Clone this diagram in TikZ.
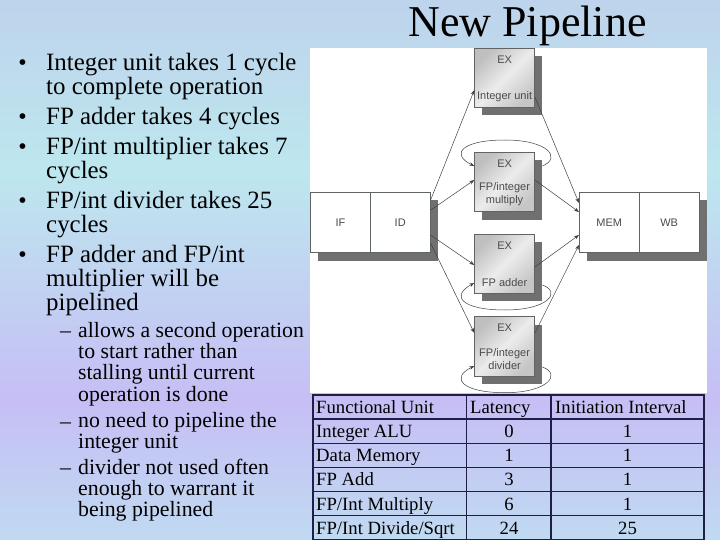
\documentclass[tikz,border=0pt]{standalone}
\usepackage{fontspec}
\setmainfont{Liberation Serif}
\newfontfamily\lblfont{Liberation Sans}
\usetikzlibrary{arrows.meta,calc}
\definecolor{bgA}{RGB}{190,211,236}
\definecolor{bgB}{RGB}{189,231,238}
\definecolor{bgC}{RGB}{198,190,245}
\definecolor{bgD}{RGB}{192,218,241}
\definecolor{shadowgray}{RGB}{112,112,112}
\definecolor{boxedge}{RGB}{95,100,100}
\definecolor{tabline}{RGB}{30,30,70}
\definecolor{lbl}{RGB}{75,75,75}
\pgfdeclareverticalshading{slidebg}{100bp}{color(0bp)=(bgD); color(25bp)=(bgD); color(37.96bp)=(bgC); color(59.26bp)=(bgB); color(75bp)=(bgA); color(100bp)=(bgA)}
\tikzset{
  x=1pt,y=-1pt,
  bullettext/.style={anchor=base west,inner sep=0pt,align=left,font=\fontsize{24.9}{24}\selectfont,text=black},
  subtext/.style={anchor=base west,inner sep=0pt,align=left,font=\fontsize{21.8}{21.3}\selectfont,text=black},
  cellhead/.style={anchor=base west,inner sep=0pt,font=\fontsize{18.7}{20}\selectfont,text=black},
  cellnum/.style={anchor=base,inner sep=0pt,font=\fontsize{18.7}{20}\selectfont,text=black},
  exbox/.style={minimum width=60pt,minimum height=59.5pt,inner sep=0pt,draw=boxedge,line width=0.6pt,shading=axis,left color=gray!50,right color=gray!45,middle color=gray!15,shading angle=45},
  stagebox/.style={minimum width=60pt,minimum height=60pt,inner sep=0pt,draw=boxedge,line width=0.7pt,fill=white},
  lbltext/.style={font=\lblfont\fontsize{11}{13}\selectfont,text=lbl,align=center,inner sep=0pt},
  flow/.style={draw=black!75,line width=0.5pt,-{Stealth[length=5pt,width=3.6pt]}},
}
\begin{document}
\begin{tikzpicture}
\useasboundingbox (0,0) rectangle (720,540);
\shade[shading=slidebg] (0,0) rectangle (720,540);

% title
\node[anchor=base,inner sep=0pt,font=\fontsize{44}{44}\selectfont] (title) at (527.5,37) {New Pipeline};

% bullets
\foreach \yy/\nm in {70.5/a,124.5/b,154.5/c,208.5/d,262.5/e}{
  \node[anchor=base,inner sep=0pt,font=\fontsize{24}{24}\selectfont] (dot\nm) at (22.5,\yy) {•};
}
\node[bullettext] (b1) at (46,94.5) {Integer unit takes 1 cycle\\to complete operation};
\node[bullettext] (b2) at (46,124.5) {FP adder takes 4 cycles};
\node[bullettext] (b3) at (46,178.5) {FP/int multiplier takes 7\\cycles};
\node[bullettext] (b4) at (46,232.5) {FP/int divider takes 25\\cycles};
\node[bullettext] (b5) at (46,310.5) {FP adder and FP/int\\multiplier will be\\pipelined};

\node[subtext] (dasha) at (60,337) {–};
\node[subtext] (dashb) at (60,428) {–};
\node[subtext] (dashc) at (60,474) {–};
\node[subtext] (s1) at (78,401) {allows a second operation\\to start rather than\\stalling until current\\operation is done};
\node[subtext] (s2) at (78,448.3) {no need to pipeline the\\integer unit};
\node[subtext] (s3) at (78,516.6) {divider not used often\\enough to warrant it\\being pipelined};

% white panel
\fill[white] (310,48) rectangle (707,393);

% shadows
\fill[shadowgray] (437.5,200.5) rectangle (318,260.6);
\fill[shadowgray] (707,200.5) rectangle (587,260.6);
\foreach \yy in {48,152.3,234,316.7}{
  \fill[shadowgray] (482.3,\yy+8) rectangle (541.8,\yy+67.3);
}

% stage boxes
\node[stagebox] (IF) at (340.5,222.7) {};
\node[stagebox] (ID) at (400.2,222.7) {};
\node[stagebox] (MEM) at (609.3,222.7) {};
\node[stagebox] (WB) at (669.2,222.7) {};
\node[lbltext] at (IF.center) {IF};
\node[lbltext] at (ID.center) {ID};
\node[lbltext] at (MEM.center) {MEM};
\node[lbltext] at (WB.center) {WB};

% EX boxes
\node[exbox] (ex1) at (504.6,78) {};
\node[exbox] (ex2) at (504.6,182) {};
\node[exbox] (ex3) at (504.6,264) {};
\node[exbox] (ex4) at (504.6,346.5) {};
\foreach \b/\txt/\yo in {ex1/Integer unit/19,ex3/FP adder/19}{
  \node[lbltext] at ($(\b.center)+(0,\yo)$) {\txt};
}
\node[lbltext,font=\lblfont\fontsize{11}{13.5}\selectfont] at ($(ex2.center)+(0,12)$) {FP/integer\\multiply};
\node[lbltext,font=\lblfont\fontsize{11}{13.5}\selectfont] at ($(ex4.center)+(0,12.5)$) {FP/integer\\divider};
\foreach \b in {ex1,ex2,ex3,ex4}{
  \node[lbltext] at ($(\b.north)+(0,11.5)$) {EX};
}

% connectors
\draw[flow] ([yshift=22.5pt]ID.east) -- ([yshift=-12pt]ex1.west);
\draw[flow] ([yshift=12.5pt]ID.east) -- ([yshift=2pt]ex2.west);
\draw[flow] ([yshift=-12.3pt]ID.east) -- ([yshift=-1pt]ex3.west);
\draw[flow] ([yshift=-20.3pt]ID.east) -- ([yshift=13.5pt]ex4.west);
\draw[flow] ([yshift=-19pt]ex1.east) -- ([yshift=19.7pt]MEM.west);
\draw[flow] ([yshift=2pt]ex2.east) -- ([yshift=10.7pt]MEM.west);
\draw[flow] ([yshift=-3pt]ex3.east) -- ([yshift=-12.3pt]MEM.west);
\draw[flow] ([yshift=13.5pt]ex4.east) -- ([yshift=-22.3pt]MEM.west);

% loops
\draw[flow] ($(ex2.east)+(7.5,-16)$) .. controls (562,158) and (548,140) .. (505,140) .. controls (462,140) and (450,154) .. ($(ex2.west)+(0,-16)$);
\draw[flow] ($(ex3.east)+(7.5,21)$) .. controls (562,292) and (548,310) .. (505,310) .. controls (462,310) and (450,296) .. ($(ex3.west)+(0,19)$);
\draw[flow] ($(ex4.east)+(7.5,20.5)$) .. controls (562,374) and (548,392.7) .. (505,392.7) .. controls (462,392.7) and (450,378) .. ($(ex4.west)+(0,19.5)$);

% table
\draw[tabline,line width=1.2pt] (313,395) rectangle (704,540);
\foreach \yy in {419,443.3,467.7,491.7,515.7}{
  \draw[tabline,line width=1.2pt] (313,\yy) -- (704,\yy);
}
\foreach \xx in {466.3,551}{
  \draw[tabline,line width=1.2pt] (\xx,395) -- (\xx,540);
}
\node[cellhead] (h1) at (316,413) {Functional Unit};
\node[cellhead] (h2) at (470,413) {Latency};
\node[cellhead] (h3) at (555,413) {Initiation Interval};
\node[cellhead] (r1) at (316,437) {Integer ALU};
\node[cellnum] (r1l) at (509,437) {0};
\node[cellnum] (r1i) at (627.5,437) {1};
\node[cellhead] (r2) at (316,461.5) {Data Memory};
\node[cellnum] (r2l) at (509,461.5) {1};
\node[cellnum] (r2i) at (627.5,461.5) {1};
\node[cellhead] (r3) at (316,485.5) {FP Add};
\node[cellnum] (r3l) at (509,485.5) {3};
\node[cellnum] (r3i) at (627.5,485.5) {1};
\node[cellhead] (r4) at (316,510) {FP/Int Multiply};
\node[cellnum] (r4l) at (509,510) {6};
\node[cellnum] (r4i) at (627.5,510) {1};
\node[cellhead] (r5) at (316,534) {FP/Int Divide/Sqrt};
\node[cellnum] (r5l) at (509,534) {24};
\node[cellnum] (r5i) at (627.5,534) {25};
\end{tikzpicture}
\end{document}
